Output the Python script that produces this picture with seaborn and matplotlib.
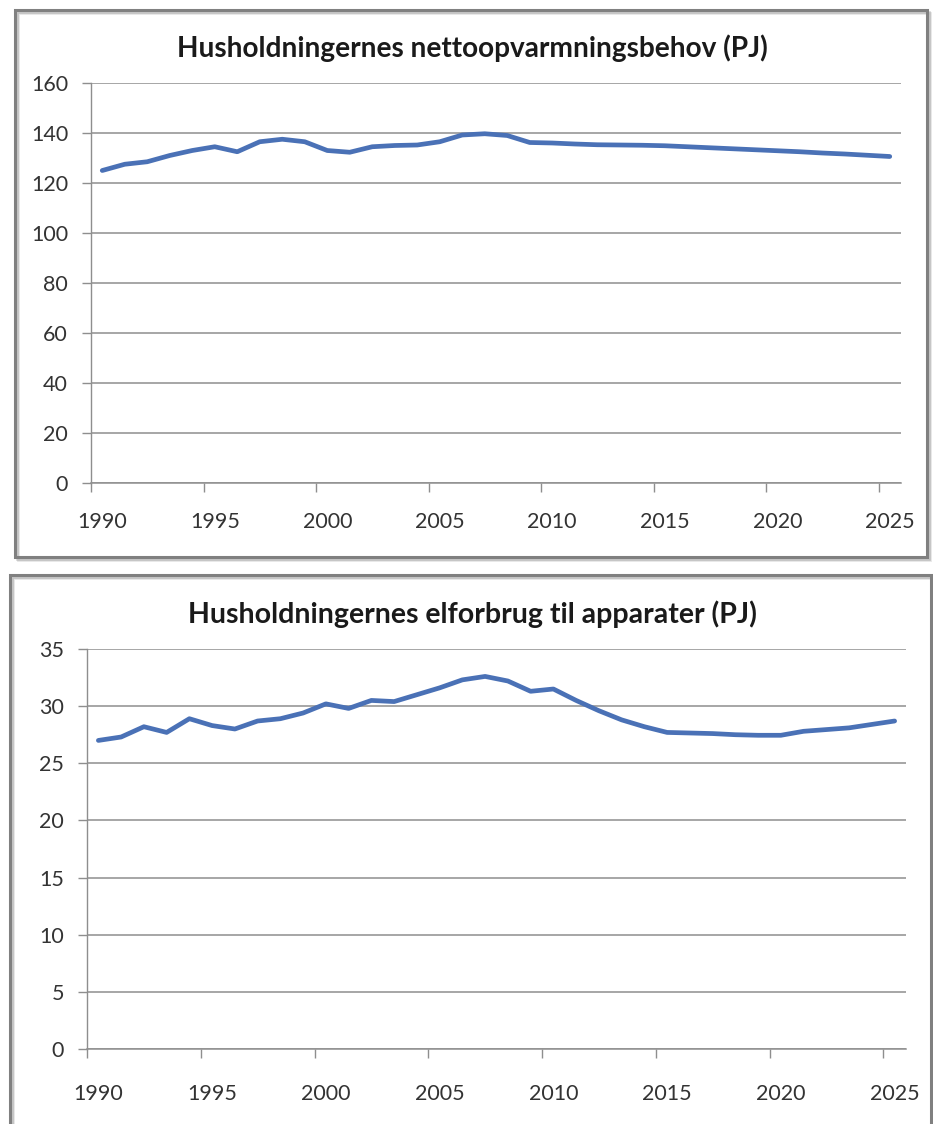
import numpy as np
import pandas as pd
import matplotlib
matplotlib.use("Agg")
import matplotlib.pyplot as plt
from matplotlib.patches import Rectangle
import seaborn as sns

# Years on the category axis
years = list(range(1990, 2026))

# Net heating demand of households (PJ)
heating_pj = [125.0, 127.5, 128.5, 131.0, 133.0, 134.5, 132.5, 136.5, 137.5, 136.5,
              133.0, 132.3, 134.5, 135.0, 135.2, 136.5, 139.2, 139.7, 139.0, 136.2,
              136.0, 135.6, 135.3, 135.2, 135.1, 134.9, 134.5, 134.1, 133.7, 133.3,
              132.9, 132.5, 132.0, 131.6, 131.1, 130.6]

# Household electricity use for appliances (PJ)
appliances_pj = [27.0, 27.3, 28.2, 27.7, 28.9, 28.3, 28.0, 28.7, 28.9, 29.4,
                 30.2, 29.8, 30.5, 30.4, 31.0, 31.6, 32.3, 32.6, 32.2, 31.3,
                 31.5, 30.5, 29.6, 28.8, 28.2, 27.7, 27.65, 27.6, 27.5, 27.45,
                 27.45, 27.8, 27.95, 28.1, 28.4, 28.7]

year_labels = ["1990", "1995", "2000", "2005", "2010", "2015", "2020", "2025"]

titles = ["Husholdningernes nettoopvarmningsbehov (PJ)",
          "Husholdningernes elforbrug til apparater (PJ)"]
y_ticks_top = [0, 20, 40, 60, 80, 100, 120, 140, 160]
y_ticks_bottom = [0, 5, 10, 15, 20, 25, 30, 35]

sns.set_theme(style="white")
plt.rcParams["font.family"] = ["Lato", "DejaVu Sans"]

W, H = 933, 1124
fig = plt.figure(figsize=(W / 100, H / 100), dpi=100)
fig.patch.set_facecolor("white")

LINE = "#4a71b6"
GRID = "#8e8e8e"
TEXT = "#333333"


def px_rect(x0, y0, x1, y1):
    """Convert pixel box (top-left origin) to figure fraction rect."""
    return [x0 / W, 1 - y1 / H, (x1 - x0) / W, (y1 - y0) / H]


def panel_frame(x0, y0, x1, y1):
    # soft shadow then the grey frame
    for off, alpha in [(3, 0.10), (2, 0.15)]:
        fig.patches.append(Rectangle(((x0 + off) / W, 1 - (y1 + off) / H),
                                     (x1 - x0) / W, (y1 - y0) / H,
                                     transform=fig.transFigure, fill=False,
                                     edgecolor="black", alpha=alpha, lw=2.0,
                                     zorder=0))
    fig.patches.append(Rectangle((x0 / W, 1 - y1 / H), (x1 - x0) / W, (y1 - y0) / H,
                                 transform=fig.transFigure, fill=False,
                                 edgecolor="#808080", lw=2.2, zorder=0.5))


panel_frame(15, 10, 927, 557)
panel_frame(10, 575, 931, 1130)


def draw_panel(rect, values, yticks, title, title_y, title_size, xpad, ypad):
    ax = fig.add_axes(rect)
    ax.set_zorder(2)
    df = pd.DataFrame({"year": years, "value": values})
    sns.lineplot(data=df, x="year", y="value", ax=ax, color=LINE, linewidth=3.4,
                 solid_joinstyle="round", solid_capstyle="round", zorder=3)
    ax.set_facecolor("none")
    ax.set_xlim(years[0] - 0.5, years[-1] + 0.5)
    ax.set_ylim(yticks[0], yticks[-1])
    ax.set_yticks(yticks)
    ax.set_yticklabels([str(t) for t in yticks])
    for t in yticks:
        ax.axhline(t, color=GRID, lw=1.1, zorder=1)

    # tick marks on category boundaries, labels on the categories
    bounds = [y - 0.5 for y in range(1990, 2026, 5)]
    ax.set_xticks(bounds)
    ax.set_xticklabels([""] * len(bounds))
    ax.set_xticks([int(s) for s in year_labels], minor=True)
    ax.set_xticklabels(year_labels, minor=True)
    ax.tick_params(axis="x", which="major", direction="out", length=6.5,
                   width=1.0, color=GRID, bottom=True)
    ax.tick_params(axis="x", which="minor", length=0, pad=xpad,
                   labelsize=15.5, labelcolor=TEXT, bottom=True)
    ax.tick_params(axis="y", direction="out", length=6.5, width=1.0,
                   color=GRID, left=True, pad=ypad, labelsize=15.5,
                   labelcolor=TEXT)
    for side in ["top", "right"]:
        ax.spines[side].set_visible(False)
    ax.spines["left"].set_color(GRID)
    ax.spines["left"].set_linewidth(1.0)
    ax.spines["bottom"].set_color(GRID)
    ax.spines["bottom"].set_linewidth(1.1)
    ax.set_xlabel("")
    ax.set_ylabel("")
    fig.text(472 / W, 1 - title_y / H, title, ha="center", va="center",
             fontsize=title_size, fontweight="bold", color="#1a1a1a")
    return ax


draw_panel(px_rect(91, 83, 901, 483), heating_pj, y_ticks_top, titles[0], 48,
           20.2, xpad=21, ypad=10)
draw_panel(px_rect(87, 649, 906, 1049), appliances_pj, y_ticks_bottom, titles[1],
           614, 20.5, xpad=25, ypad=10)

fig.savefig("out.png", dpi=100, facecolor="white")
